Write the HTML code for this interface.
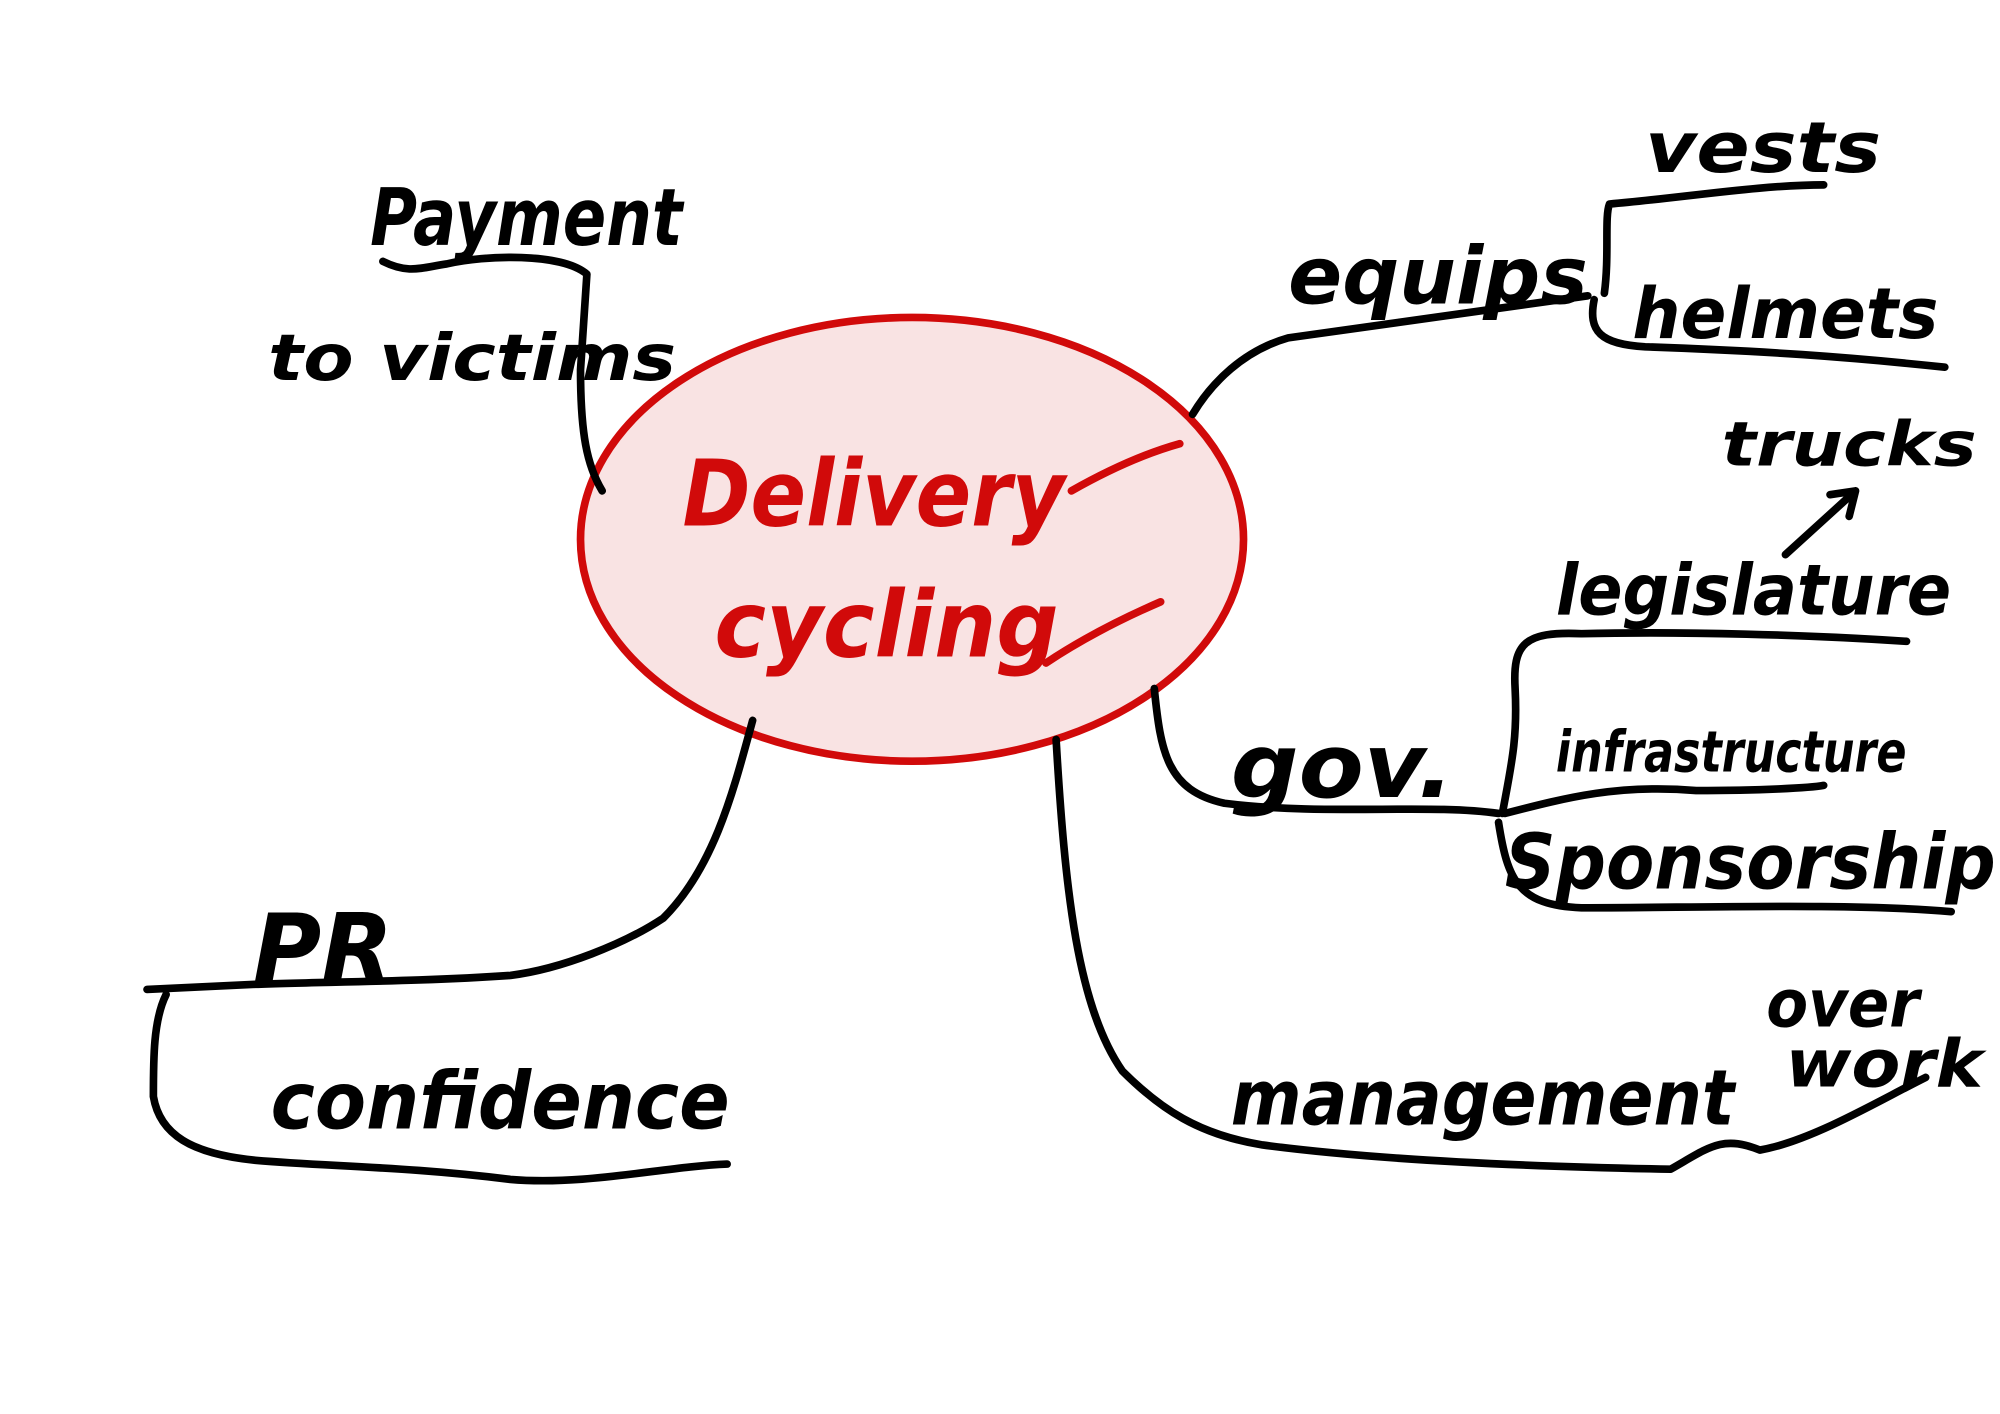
<!DOCTYPE html>
<html><head><meta charset="utf-8"><style>
html,body{margin:0;padding:0;background:#fff;}
svg{display:block;}
text{font-family:"DejaVu Sans","Liberation Sans",sans-serif;font-style:italic;font-weight:bold;}
</style></head><body>
<svg width="2000" height="1414" viewBox="0 0 1568 1109" xmlns="http://www.w3.org/2000/svg">
<rect width="1568" height="1109" fill="#fff"/>
<ellipse cx="715" cy="423" rx="260" ry="174" fill="#f9e3e3" stroke="#d10a0a" stroke-width="6"/>
<g fill="#d10a0a">
<text x="535" y="412" font-size="72" textLength="300" lengthAdjust="spacingAndGlyphs">Delivery</text>
<text x="560" y="515" font-size="72" textLength="270" lengthAdjust="spacingAndGlyphs">cycling</text>
</g>
<g stroke="#d10a0a" stroke-width="6" fill="none" stroke-linecap="round">
<path d="M840,385 C870,368 900,355 925,348"/>
<path d="M820,520 C850,500 880,485 910,472"/>
</g>
<g stroke="#000" stroke-width="6" fill="none" stroke-linecap="round" stroke-linejoin="round">
<path d="M300,205 C320,215 330,210 350,207 C380,200 440,198 460,215 L455,290 C455,340 460,365 472,385"/>
<path d="M935,325 C950,300 975,275 1010,265 C1060,258 1150,245 1245,232"/>
<path d="M1258,230 C1262,200 1258,170 1262,160 C1320,155 1380,145 1430,145"/>
<path d="M1250,235 C1245,260 1255,270 1290,272 C1380,275 1450,280 1525,288"/>
<path d="M905,540 C910,590 915,620 960,630 C1040,640 1120,630 1175,638"/>
<path d="M1178,638 C1185,600 1190,580 1188,540 C1186,505 1195,495 1240,497 C1320,495 1420,498 1495,503"/>
<path d="M1180,638 C1230,625 1270,615 1330,620 C1380,620 1420,618 1430,616"/>
<path d="M1175,645 C1182,690 1190,710 1240,712 C1330,712 1450,708 1530,715"/>
<path d="M1400,435 L1455,385 M1435,388 L1455,385 L1450,405"/>
<path d="M828,580 C835,700 845,790 880,840 C910,870 940,890 990,898 C1080,910 1200,915 1310,917 C1340,900 1350,890 1380,902 C1420,895 1470,865 1510,845"/>
<path d="M590,565 C575,620 560,680 520,720 C490,740 440,760 400,765 C330,770 250,770 200,772 L115,776"/>
<path d="M130,780 C120,800 120,830 120,860 C125,890 150,905 200,910 C260,915 320,915 400,925 C460,930 520,915 570,913"/>
</g>
<g fill="#000">
<text x="290" y="192" font-size="62" textLength="245" lengthAdjust="spacingAndGlyphs">Payment</text>
<text x="210" y="298" font-size="50" textLength="320" lengthAdjust="spacingAndGlyphs">to victims</text>
<text x="1010" y="238" font-size="62" textLength="235" lengthAdjust="spacingAndGlyphs">equips</text>
<text x="1290" y="135" font-size="55" textLength="185" lengthAdjust="spacingAndGlyphs">vests</text>
<text x="1280" y="265" font-size="55" textLength="240" lengthAdjust="spacingAndGlyphs">helmets</text>
<text x="1350" y="365" font-size="48" textLength="200" lengthAdjust="spacingAndGlyphs">trucks</text>
<text x="1220" y="482" font-size="55" textLength="310" lengthAdjust="spacingAndGlyphs">legislature</text>
<text x="965" y="625" font-size="70" textLength="175" lengthAdjust="spacingAndGlyphs">gov.</text>
<text x="1220" y="605" font-size="45" textLength="275" lengthAdjust="spacingAndGlyphs">infrastructure</text>
<text x="1180" y="697" font-size="60" textLength="385" lengthAdjust="spacingAndGlyphs">Sponsorship</text>
<text x="1385" y="805" font-size="52" textLength="120" lengthAdjust="spacingAndGlyphs">over</text>
<text x="1400" y="852" font-size="52" textLength="155" lengthAdjust="spacingAndGlyphs">work</text>
<text x="965" y="882" font-size="60" textLength="395" lengthAdjust="spacingAndGlyphs">management</text>
<text x="198" y="770" font-size="75" textLength="110" lengthAdjust="spacingAndGlyphs">PR</text>
<text x="212" y="885" font-size="62" textLength="360" lengthAdjust="spacingAndGlyphs">confidence</text>
</g>
</svg>
</body></html>
